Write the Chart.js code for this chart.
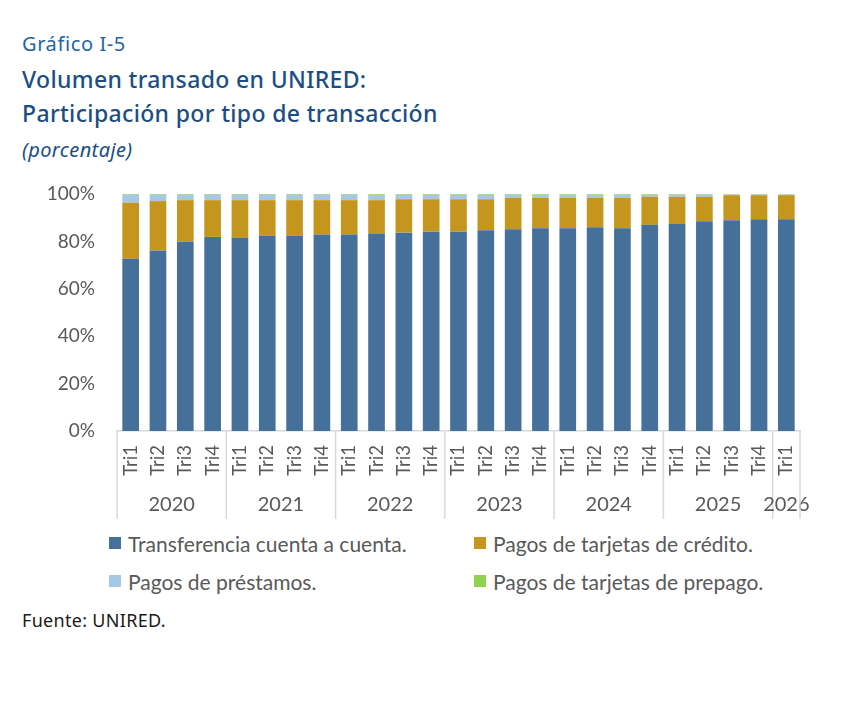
<!DOCTYPE html>
<html>
<head>
<meta charset="utf-8">
<script src="https://cdn.jsdelivr.net/npm/chart.js@4.4.1/dist/chart.umd.min.js"></script>
<style>
  html, body { margin: 0; padding: 0; background: #fff; }
  body { width: 842px; height: 702px; position: relative; overflow: hidden; }
  .t { position: absolute; left: 22px; white-space: nowrap; font-family: "Noto Sans", sans-serif; }
  #kicker { top: 34px; font-size: 20px; line-height: 20px; color: #2565a6; letter-spacing: 0.6px; }
  #title { top: 62px; font-size: 23px; line-height: 34px; color: #1b4e83; font-weight: 500; letter-spacing: 0.35px; }
  #unit { top: 140px; font-size: 20px; line-height: 20px; color: #1b4e83; font-style: italic; letter-spacing: 0.4px; }
  #source { top: 611px; font-size: 18px; line-height: 18px; color: #1a1a1a; letter-spacing: 0.3px; }
  #wrap { position: absolute; left: 0; top: 0; width: 842px; height: 530px; }
  .leg { position: absolute; height: 26px; display: flex; align-items: center;
         font-family: Lato, sans-serif; font-size: 21px; color: #595959; white-space: nowrap; }
  .leg i { display: inline-block; width: 12px; height: 12px; margin-right: 7px; }
</style>
</head>
<body>
<div class="t" id="kicker">Gráfico I-5</div>
<div class="t" id="title">Volumen transado en UNIRED:<br>Participación por tipo de transacción</div>
<div class="t" id="unit">(porcentaje)</div>
<div id="wrap"><canvas id="chart"></canvas></div>
<div id="legend"></div>
<div class="t" id="source">Fuente: UNIRED.</div>
<script>
const quarters = ["Tri1", "Tri2", "Tri3", "Tri4", "Tri1", "Tri2", "Tri3", "Tri4",
  "Tri1", "Tri2", "Tri3", "Tri4", "Tri1", "Tri2", "Tri3", "Tri4",
  "Tri1", "Tri2", "Tri3", "Tri4", "Tri1", "Tri2", "Tri3", "Tri4", "Tri1"];
const years = ["2020", "2020", "2020", "2020", "2021", "2021", "2021", "2021",
  "2022", "2022", "2022", "2022", "2023", "2023", "2023", "2023",
  "2024", "2024", "2024", "2024", "2025", "2025", "2025", "2025", "2026"];

const transferencias = [72.7, 76.2, 80.0, 81.9, 81.5, 82.3, 82.3, 82.9, 82.9, 83.3, 83.7, 84.1, 84.1,
  84.7, 85.1, 85.5, 85.5, 86.0, 85.5, 87.0, 87.3, 88.5, 88.9, 89.3, 89.3];
const tarjetasCredito = [23.6, 20.8, 17.4, 15.5, 15.9, 15.1, 15.1, 14.5, 14.5, 14.1, 14.1, 13.7, 13.7,
  13.1, 13.3, 12.9, 12.9, 12.4, 12.9, 11.9, 11.5, 10.3, 10.6, 10.2, 10.2];
const prestamos = [3.4, 2.7, 2.3, 2.3, 2.3, 2.3, 2.3, 2.3, 2.3, 2.3, 1.9, 1.9, 1.9,
  1.9, 1.3, 1.3, 1.3, 1.3, 1.3, 0.8, 1.0, 1.0, 0.3, 0.3, 0.3];
const tarjetasPrepago = [0.3, 0.3, 0.3, 0.3, 0.3, 0.3, 0.3, 0.3, 0.3, 0.3, 0.3, 0.3, 0.3,
  0.3, 0.3, 0.3, 0.3, 0.3, 0.3, 0.3, 0.2, 0.2, 0.2, 0.2, 0.2];
const yTicks = [0, 20, 40, 60, 80, 100];

const series = [
  { label: "Transferencia cuenta a cuenta.", data: transferencias, color: "#44709a" },
  { label: "Pagos de tarjetas de crédito.", data: tarjetasCredito, color: "#c4961e" },
  { label: "Pagos de préstamos.", data: prestamos, color: "#a6c8e3" },
  { label: "Pagos de tarjetas de prepago.", data: tarjetasPrepago, color: "#92d050" },
];

const labelFont = { family: "Lato", size: 19 };

// year groups under the quarter labels, with separators between them
const yearGroups = {
  id: "yearGroups",
  afterDraw(chart) {
    const { ctx, chartArea } = chart;
    const x = chart.scales.x;
    const step = x.getPixelForValue(1) - x.getPixelForValue(0);
    const edge = (i) => (i >= years.length ? chartArea.right : x.getPixelForValue(i) - step / 2);
    const top = chartArea.bottom;
    ctx.save();
    ctx.strokeStyle = "#d9d9d9";
    ctx.lineWidth = 1.5;
    ctx.fillStyle = "#595959";
    ctx.font = `20px ${labelFont.family}`;
    ctx.textAlign = "center";
    ctx.textBaseline = "middle";
    let start = 0;
    for (let i = 1; i <= years.length; i++) {
      if (i === years.length || years[i] !== years[start]) {
        const a = edge(start), b = edge(i);
        ctx.beginPath();
        ctx.moveTo(a, top);
        ctx.lineTo(a, top + 88);
        ctx.stroke();
        ctx.fillText(years[start], (a + b) / 2, top + 74);
        start = i;
      }
    }
    ctx.beginPath();
    ctx.moveTo(chartArea.right, top);
    ctx.lineTo(chartArea.right, top + 88);
    ctx.stroke();
    ctx.restore();
  },
};

new Chart(document.getElementById("chart"), {
  type: "bar",
  data: {
    labels: quarters,
    datasets: series.map((s) => ({
      label: s.label,
      data: s.data,
      backgroundColor: s.color,
      borderWidth: 0,
      barPercentage: 0.61,
      categoryPercentage: 1,
    })),
  },
  options: {
    responsive: true,
    maintainAspectRatio: false,
    animation: false,
    layout: { padding: { top: 194, left: 0, right: 42, bottom: 0 } },
    plugins: { legend: { display: false }, tooltip: { enabled: false } },
    scales: {
      x: {
        stacked: true,
        grid: { display: false, drawTicks: false },
        border: { display: true, color: "#d9d9d9", width: 1.5 },
        ticks: { font: { family: "Lato", size: 18.5 }, color: "#595959", maxRotation: 90, minRotation: 90, autoSkip: false, padding: 14 },
        afterFit: (scale) => { scale.height = 99; },
      },
      y: {
        stacked: true,
        min: 0,
        max: 100,
        grid: { display: false, drawTicks: false },
        border: { display: false },
        afterBuildTicks: (scale) => { scale.ticks = yTicks.map((v) => ({ value: v })); },
        ticks: { font: labelFont, color: "#595959", padding: 22, callback: (v) => v + "%" },
        afterFit: (scale) => { scale.width = 117; },
      },
    },
  },
  plugins: [yearGroups],
});

// two-column legend below the axis
const legendPos = [[109, 530], [474, 530], [109, 568], [474, 568]];
const legend = document.getElementById("legend");
series.forEach((s, i) => {
  const d = document.createElement("div");
  d.className = "leg";
  d.style.left = legendPos[i][0] + "px";
  d.style.top = legendPos[i][1] + "px";
  d.innerHTML = `<i style="background:${s.color}"></i>${s.label}`;
  legend.appendChild(d);
});
</script>
</body>
</html>
